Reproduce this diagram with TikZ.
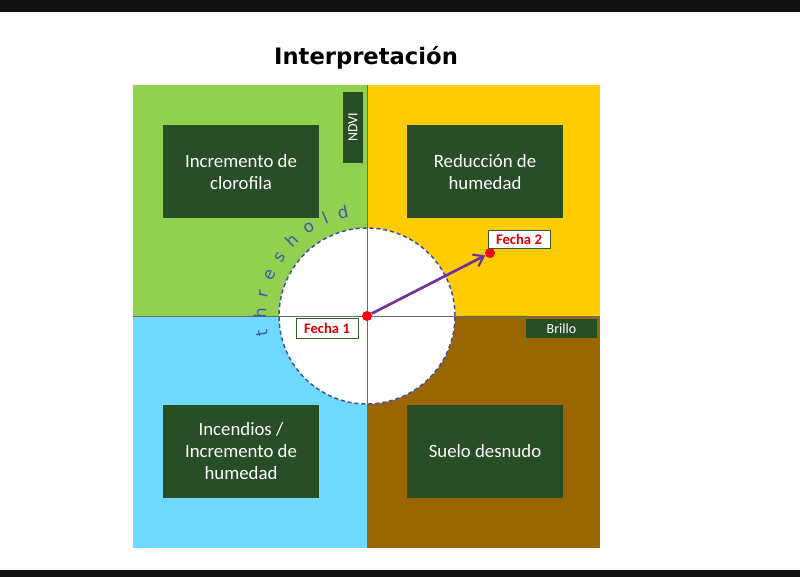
\documentclass[tikz,border=0pt]{standalone}
\usepackage{fontspec}
\setmainfont{Carlito}
\newfontfamily\titlefont{DejaVu Sans}
\usetikzlibrary{arrows.meta,decorations.text}

\definecolor{qgreen}{HTML}{92D050}
\definecolor{qyellow}{HTML}{FFCC00}
\definecolor{qblue}{HTML}{6FD9FF}
\definecolor{qbrown}{HTML}{996600}
\definecolor{boxgreen}{HTML}{274E24}
\definecolor{barblack}{HTML}{111111}
\definecolor{ringblue}{HTML}{3F4DA3}
\definecolor{thrblue}{HTML}{4454B2}
\definecolor{arrowpurple}{HTML}{7030A0}
\definecolor{datered}{HTML}{E00000}
\definecolor{tagedge}{HTML}{3A5A36}

\tikzset{
  quadbox/.style={fill=boxgreen, text=white, align=center,
    minimum width=117pt, minimum height=69.75pt, inner sep=0pt,
    font=\fontsize{14.1}{16.5}\selectfont},
  smalltag/.style={fill=boxgreen, text=white, inner sep=0pt,
    font=\fontsize{10.5}{12}\selectfont},
  datetag/.style={draw=tagedge, line width=0.7pt, fill=white, text=datered,
    inner sep=0pt, minimum width=46.5pt, font=\bfseries\fontsize{11}{12}\selectfont},
  reddot/.style={circle, fill=red, inner sep=0pt, minimum size=7.5pt},
  axisline/.style={draw=gray!85!black, line width=0.6pt},
  vecarrow/.style={draw=arrowpurple, line width=2pt,
    -{Straight Barb[length=7pt,width=10pt,line width=1.6pt]}}
}

\begin{document}
\begin{tikzpicture}[x=0.75pt,y=-0.75pt]
\useasboundingbox (0,0) rectangle (800,577);
\fill[white] (0,0) rectangle (800,577);
% screen bars
\fill[barblack] (0,0) rectangle (800,12);
\fill[barblack] (0,570) rectangle (800,577);

% title
\node[font=\titlefont\bfseries\fontsize{17}{20}\selectfont] (title) at (366,58) {Interpretación};

% quadrants
\fill[qgreen]  (133,85)  rectangle (367,316);
\fill[qyellow] (367,85)  rectangle (600,316);
\fill[qblue]   (133,316) rectangle (367,548);
\fill[qbrown]  (367,316) rectangle (600,548);

% threshold ring
\coordinate (c) at (367,316);
\fill[white] (c) circle[radius=66pt];
\draw[ringblue, line width=1.1pt, dash pattern=on 3pt off 2.2pt] (c) circle[radius=66pt];

% axes
\draw[axisline] (367,85) -- (367,548);
\draw[axisline] (133,316) -- (600,316);

% curved label
\path[decorate, decoration={text along path, text align={fit to path},
  text={|\titlefont\fontsize{12.5}{14}\selectfont\color{thrblue}|threshold}}]
  (c) ++(191:75.5pt) arc[start angle=191, end angle=100, radius=75.5pt];

% quadrant boxes
\node[quadbox] (tl) at (241,172) {Incremento de\\clorofila};
\node[quadbox] (tr) at (485,172) {Reducción de\\humedad};
\node[quadbox] (bl) at (241,451) {Incendios /\\Incremento de\\humedad};
\node[quadbox] (br) at (485,451) {Suelo desnudo};

% axis tags
\node[smalltag, rotate=90, minimum width=53.25pt, minimum height=15pt] (ndvi) at (353,127.5) {NDVI};
\node[smalltag, minimum width=53.25pt, minimum height=14.25pt] (brillo) at (561.5,328.5) {Brillo};

% dates
\node[reddot] (d1) at (367,316) {};
\node[reddot] (d2) at (490,253) {};
\draw[vecarrow] (d1) -- (d2);
\node[datetag, minimum height=15pt] (f1) at (327,328) {Fecha 1};
\node[datetag, minimum height=13.5pt] (f2) at (519,239) {Fecha 2};
\end{tikzpicture}
\end{document}
